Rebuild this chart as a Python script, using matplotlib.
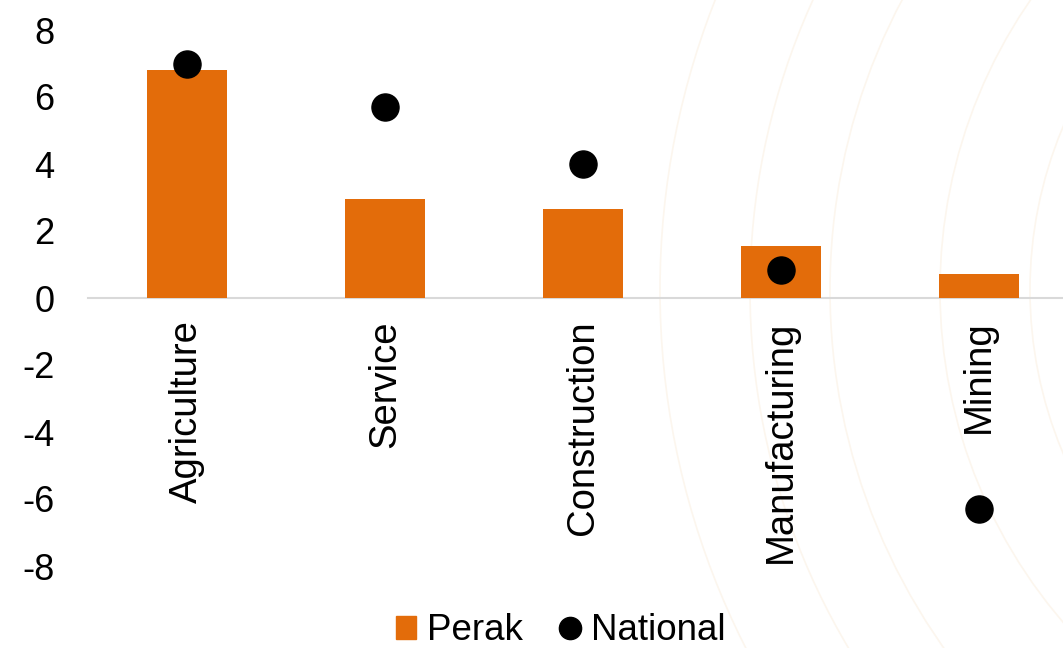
import matplotlib
matplotlib.use("Agg")
import matplotlib.pyplot as plt
from matplotlib.patches import Circle
from matplotlib.lines import Line2D
from matplotlib.patches import Patch

categories = ["Agriculture", "Service", "Construction", "Manufacturing", "Mining"]
perak = [6.8, 2.95, 2.65, 1.55, 0.72]
national = [7.0, 5.7, 4.0, 0.85, -6.3]
yticks = [-8, -6, -4, -2, 0, 2, 4, 6, 8]

plt.rcParams['font.family'] = ['Liberation Sans', 'DejaVu Sans']

W, H = 1063, 648
fig = plt.figure(figsize=(W / 100, H / 100), dpi=100)

# faint decorative arcs in the background
bg = fig.add_axes([0, 0, 1, 1], zorder=0)
bg.set_xlim(0, W)
bg.set_ylim(H, 0)
bg.axis('off')
cx, cy = 1450, 290
for r in [230, 330, 420, 510, 620, 700, 790]:
    bg.add_patch(Circle((cx, cy), r, fill=False, ec='#fcf6ee', lw=1.2))

left, right = 88, 1078
top, bottom = 30, 566
ax = fig.add_axes([left / W, (H - bottom) / H, (right - left) / W, (bottom - top) / H], zorder=1)
ax.patch.set_alpha(0)

x = list(range(len(categories)))
ax.bar(x, perak, width=0.4, color='#E36C0A', zorder=2)
ax.scatter(x, national, s=380, color='black', zorder=3)

ax.set_xlim(-0.5, 4.5)
ax.set_ylim(-8, 8)
ax.set_yticks(yticks)
ax.set_yticklabels([str(v) for v in yticks])
ax.set_xticks(x)
ax.set_xticklabels(categories)

for s in ['left', 'right', 'top']:
    ax.spines[s].set_visible(False)
ax.spines['bottom'].set_position(('data', 0))
ax.spines['bottom'].set_color('#d9d9d9')
ax.spines['bottom'].set_linewidth(1.5)
ax.spines['bottom'].set_zorder(1)

ax.tick_params(axis='y', length=0, pad=24, labelsize=26)
ax.tick_params(axis='x', length=0, pad=16, labelsize=27.5, labelrotation=90)
for lab in ax.get_xticklabels():
    lab.set_verticalalignment('top')
    lab.set_horizontalalignment('center')

handles = [Patch(color='#E36C0A', label='Perak'),
           Line2D([], [], marker='o', ls='none', color='black', markersize=16, label='National')]
fig.legend(handles=handles, loc='center', bbox_to_anchor=(561 / W, 1 - 631 / H), ncol=2,
           frameon=False, fontsize=26.5, handlelength=0.55, handleheight=0.55,
           handletextpad=0.3, columnspacing=1.0, borderpad=0)

fig.savefig('out.png', dpi=100)
